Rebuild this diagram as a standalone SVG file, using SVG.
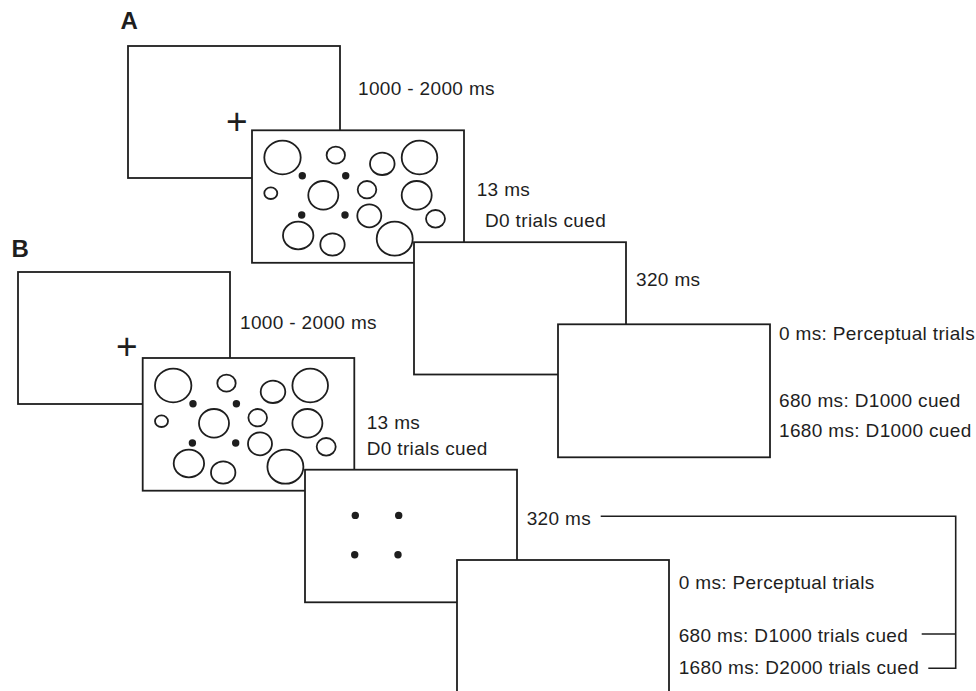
<svg xmlns="http://www.w3.org/2000/svg" xmlns:xlink="http://www.w3.org/1999/xlink" width="976" height="691" viewBox="0 0 976 691">
  <style>
    .frame { fill: #ffffff; stroke: #1e1e1e; stroke-width: 1.8; }
    .circ { fill: none; stroke: #1e1e1e; stroke-width: 1.8; }
    .dot { fill: #1e1e1e; }
    .lbl { font-family: "Liberation Sans", Arial, Helvetica, sans-serif; font-size: 19px; letter-spacing: 0.35px; fill: #1e1e1e; }
    .panel { font-family: "Liberation Sans", Arial, Helvetica, sans-serif; font-size: 24px; font-weight: bold; fill: #1e1e1e; }
    .fix { font-family: "Liberation Sans", Arial, Helvetica, sans-serif; font-size: 37px; fill: #1e1e1e; text-anchor: middle; }
    .conn { fill: none; stroke: #1e1e1e; stroke-width: 1.6; }
  </style>
  <defs>
    <g id="cues">
      <circle class="dot" cx="50.3" cy="45.7" r="3.7"/>
      <circle class="dot" cx="93.7" cy="45.7" r="3.7"/>
      <circle class="dot" cx="49.7" cy="85" r="3.7"/>
      <circle class="dot" cx="93" cy="85" r="3.7"/>
    </g>
    <g id="stimulus">
      <ellipse class="circ" cx="30.5" cy="27.5" rx="18.2" ry="16.8"/>
      <ellipse class="circ" cx="83.8" cy="25.2" rx="9.2" ry="8.5"/>
      <ellipse class="circ" cx="130.3" cy="33.8" rx="12.3" ry="11.2"/>
      <ellipse class="circ" cx="167.5" cy="27.5" rx="17.8" ry="16.8"/>
      <ellipse class="circ" cx="18.8" cy="63.2" rx="6.5" ry="5.8"/>
      <ellipse class="circ" cx="71.3" cy="65.3" rx="15" ry="14.3"/>
      <ellipse class="circ" cx="115" cy="59.7" rx="9.3" ry="8.7"/>
      <ellipse class="circ" cx="164.7" cy="65.3" rx="15" ry="14.3"/>
      <ellipse class="circ" cx="117.3" cy="85.8" rx="12" ry="11.5"/>
      <ellipse class="circ" cx="183.5" cy="88.8" rx="9.5" ry="8.8"/>
      <ellipse class="circ" cx="46.2" cy="105.5" rx="15.2" ry="13.8"/>
      <ellipse class="circ" cx="80.5" cy="114.5" rx="12.2" ry="11.2"/>
      <ellipse class="circ" cx="142.7" cy="108.7" rx="18" ry="17"/>
      <use xlink:href="#cues" href="#cues"/>
    </g>
  </defs>

  <rect x="0" y="0" width="976" height="691" fill="#ffffff"/>

  <!-- Panel A -->
  <text class="panel" x="120.5" y="29.3">A</text>
  <g id="A-fixation">
    <rect class="frame" x="128" y="46" width="212" height="132"/>
    <text class="fix" x="236.7" y="134">+</text>
  </g>
  <g id="A-stimulus">
    <rect class="frame" x="252" y="130.3" width="212" height="132.5"/>
    <use xlink:href="#stimulus" href="#stimulus" x="252" y="130"/>
  </g>
  <g id="A-blank">
    <rect class="frame" x="414" y="242.2" width="212" height="132.3"/>
  </g>
  <g id="A-final">
    <rect class="frame" x="558" y="324.3" width="212" height="133"/>
  </g>
  <g id="A-labels">
    <text class="lbl" x="358" y="95">1000 - 2000 ms</text>
    <text class="lbl" x="476.7" y="196">13 ms</text>
    <text class="lbl" x="485" y="227.3">D0 trials cued</text>
    <text class="lbl" x="636" y="286">320 ms</text>
    <text class="lbl" x="779" y="340">0 ms: Perceptual trials</text>
    <text class="lbl" x="779" y="406.7">680 ms: D1000 cued</text>
    <text class="lbl" x="779" y="437.3">1680 ms: D1000 cued</text>
  </g>

  <!-- Panel B -->
  <text class="panel" x="11.5" y="256.7">B</text>
  <g id="B-fixation">
    <rect class="frame" x="18" y="272" width="212" height="132"/>
    <text class="fix" x="126.7" y="359.4">+</text>
  </g>
  <g id="B-stimulus">
    <rect class="frame" x="142.7" y="358" width="211.6" height="132.7"/>
    <use xlink:href="#stimulus" href="#stimulus" x="142.7" y="358"/>
  </g>
  <g id="B-cue">
    <rect class="frame" x="305" y="469.7" width="212" height="132.6"/>
    <use xlink:href="#cues" href="#cues" x="305" y="469.7"/>
  </g>
  <g id="B-final">
    <rect class="frame" x="457" y="560" width="212" height="140"/>
  </g>
  <g id="B-labels">
    <text class="lbl" x="240" y="329.3">1000 - 2000 ms</text>
    <text class="lbl" x="366.7" y="429.3">13 ms</text>
    <text class="lbl" x="366.7" y="455">D0 trials cued</text>
    <text class="lbl" x="526.7" y="525">320 ms</text>
    <text class="lbl" x="678.7" y="589.3">0 ms: Perceptual trials</text>
    <text class="lbl" x="678.7" y="641.7">680 ms: D1000 trials cued</text>
    <text class="lbl" x="678.7" y="674">1680 ms: D2000 trials cued</text>
  </g>

  <g id="connectors">
    <polyline class="conn" points="600.7,516.3 955.7,516.3 955.7,668.3 928.3,668.3"/>
    <line class="conn" x1="921.7" y1="634" x2="955.7" y2="634"/>
  </g>
</svg>
